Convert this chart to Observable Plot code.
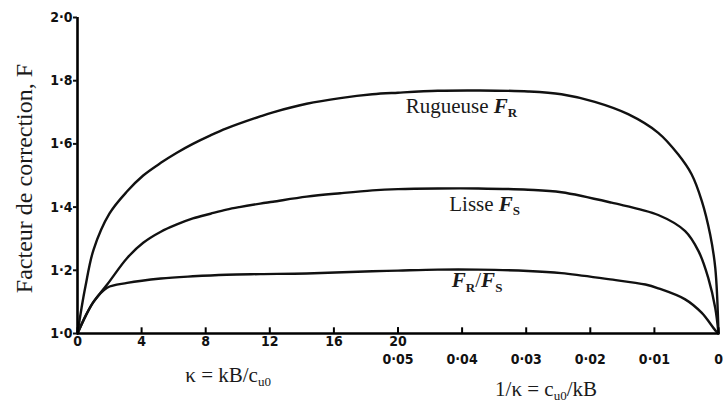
<!DOCTYPE html>
<html><head><meta charset="utf-8">
<script src="https://cdn.jsdelivr.net/npm/d3@7"></script>
<script src="https://cdn.jsdelivr.net/npm/@observablehq/plot@0.6"></script>
<style>
html,body{margin:0;padding:0;background:#fff;}
</style>
</head><body><div id="chart"></div>
<script>
// ---- tick labels ----
const kappaTicks = [0, 4, 8, 12, 16, 20];
const invKappaTicks = [0.05, 0.04, 0.03, 0.02, 0.01, 0];
const yTicks = [1.0, 1.2, 1.4, 1.6, 1.8, 2.0];

// ---- Rugueuse F_R : left half (kappa), right half (1/kappa) ----
const roughKappa  = [0, 0.25, 0.5, 1.0, 2.0, 3.1, 4.1, 5.2, 6.2, 7.2, 8.3, 9.3, 11.4, 12.2, 14.3, 16.4, 18.4, 20];
const roughKappaF = [1.0, 1.08, 1.15, 1.265, 1.38, 1.45, 1.50, 1.54, 1.572, 1.600, 1.627, 1.649, 1.687, 1.700, 1.727, 1.745, 1.757, 1.762];
const roughInv    = [0.0438, 0.0375, 0.0297, 0.0245, 0.0193, 0.0141, 0.0094, 0.0063, 0.0042, 0.0026, 0.0013, 0.0005, 0];
const roughInvF   = [1.768, 1.769, 1.766, 1.757, 1.733, 1.694, 1.635, 1.567, 1.504, 1.419, 1.313, 1.207, 1.0];

// ---- Lisse F_S ----
const smoothKappa  = [0, 0.5, 1.0, 1.85, 3.1, 4.1, 5.2, 6.2, 7.2, 8.3, 9.3, 10.1, 11.4, 12.2, 14.3, 16.4, 18.4, 20];
const smoothKappaF = [1.0, 1.055, 1.10, 1.155, 1.239, 1.287, 1.322, 1.345, 1.364, 1.379, 1.392, 1.400, 1.411, 1.417, 1.433, 1.444, 1.453, 1.457];
const smoothInv    = [0.0438, 0.0375, 0.0297, 0.0245, 0.0167, 0.0094, 0.0052, 0.0031, 0.0016, 0.0005, 0];
const smoothInvF   = [1.459, 1.459, 1.455, 1.447, 1.414, 1.375, 1.324, 1.26, 1.176, 1.08, 1.0];

// ---- F_R / F_S ----
const ratioKappa  = [0, 0.5, 1.0, 1.85, 3.1, 5.2, 7.2, 9.3, 11.4, 14.3, 18.4, 20];
const ratioKappaF = [1.0, 1.055, 1.10, 1.145, 1.160, 1.174, 1.181, 1.186, 1.188, 1.190, 1.197, 1.199];
const ratioInv    = [0.0438, 0.0375, 0.0297, 0.0245, 0.0172, 0.0114, 0.0094, 0.0052, 0.0026, 0.0005, 0];
const ratioInvF   = [1.202, 1.202, 1.198, 1.191, 1.172, 1.155, 1.143, 1.108, 1.065, 1.01, 1.0];

// ---- annotations (label, 1/kappa, F) ----
const annotText = ["Rugueuse *F*_{R}", "Lisse *F*_{S}", "*F*_{R}/*F*_{S}"];
const annotInv  = [0.0488, 0.0420, 0.0416];
const annotF    = [1.699, 1.389, 1.146];

// combined horizontal coordinate: kappa 0..20 on the left, 1/kappa 0.05..0 on the right
const fromKappa = k => k;
const fromInv = v => 20 + (0.05 - v) * 400;
const toInv = u => Math.round((0.05 - (u - 20) / 400) * 100) / 100;

const rows = [];
function addSeries(name, ks, kf, is, iF) {
  ks.forEach((k, i) => rows.push({series: name, u: fromKappa(k), F: kf[i]}));
  is.forEach((v, i) => rows.push({series: name, u: fromInv(v), F: iF[i]}));
}
addSeries("rough", roughKappa, roughKappaF, roughInv, roughInvF);
addSeries("smooth", smoothKappa, smoothKappaF, smoothInv, smoothInvF);
addSeries("ratio", ratioKappa, ratioKappaF, ratioInv, ratioInvF);

const annots = annotText.map((t, i) => ({t, u: fromInv(annotInv[i]), F: annotF[i]}));

const serif = "'Liberation Serif', 'DejaVu Serif', serif";
const tickFont = "'DejaVu Sans Condensed', 'DejaVu Sans', sans-serif";
const dotFmt = (v, n) => v === 0 ? "0" : v.toFixed(n).replace(".", "\u00B7");

const chart = Plot.plot({
  width: 723,
  height: 403,
  marginLeft: 77,
  marginRight: 5,
  marginTop: 17,
  marginBottom: 70,
  style: {background: "#fff", color: "#111"},
  x: {domain: [0, 40]},
  y: {domain: [1, 2]},
  marks: [
    Plot.line(rows, {x: "u", y: "F", z: "series", stroke: "#111", strokeWidth: 2.4, curve: "catmull-rom"}),
    Plot.ruleY([1], {stroke: "#000", strokeWidth: 2.6}),
    Plot.ruleX([0], {stroke: "#000", strokeWidth: 2.6}),
    // upward tick marks on the x axis
    Plot.ruleX(kappaTicks.map(fromKappa).concat(invKappaTicks.map(fromInv)), {x: d => d, y1: 1, y2: 1.018, stroke: "#000", strokeWidth: 2}),
    Plot.axisY(yTicks, {tickSize: 4, tickPadding: 1, strokeWidth: 2, tickFormat: d => dotFmt(d, 1), fontSize: 14, fontWeight: "bold", fontFamily: tickFont, label: null}),
    Plot.axisX(kappaTicks.map(fromKappa), {tickSize: 0, tickPadding: 3, tickFormat: d => String(d), fontSize: 14, fontWeight: "bold", fontFamily: tickFont, label: null}),
    Plot.axisX(invKappaTicks.map(fromInv), {tickSize: 0, tickPadding: 21, tickFormat: u => dotFmt(toInv(u), 2), fontSize: 14, fontWeight: "bold", fontFamily: tickFont, label: null}),
    Plot.text(annots, {x: "u", y: "F", text: "t", textAnchor: "start", lineAnchor: "bottom", fontSize: 21, fontFamily: serif, fill: "#1a1a1a", className: "rich"}),
    Plot.text(["\u03BA = kB/c_{u0}"], {x: fromKappa(9.4), frameAnchor: "bottom", dy: 48, lineAnchor: "bottom", fontSize: 21, fontFamily: serif, fill: "#1a1a1a", className: "rich"}),
    Plot.text(["1/\u03BA = c_{u0}/kB"], {x: fromInv(0.0269), frameAnchor: "bottom", dy: 62, lineAnchor: "bottom", fontSize: 21, fontFamily: serif, fill: "#1a1a1a", className: "rich"}),
    Plot.text(["Facteur de correction, F"], {frameAnchor: "left", textAnchor: "middle", dx: -53, dy: 3, rotate: -90, fontSize: 24, fontFamily: serif, fill: "#1a1a1a"})
  ]
});

// rich text: *x* = bold italic, _{x} = subscript
d3.select(chart).selectAll("g.rich text").each(function() {
  const el = d3.select(this);
  const fs = 21;
  const s = this.textContent;
  this.textContent = "";
  const parts = s.split(/(\*[^*]+\*|_\{[^}]+\})/).filter(p => p);
  let shift = 0;
  parts.forEach((p, idx) => {
    const t = el.append("tspan");
    if (p.startsWith("*")) {
      t.text(p.slice(1, -1)).attr("font-style", "italic").attr("font-weight", "bold");
      if (shift) { t.attr("dy", -shift); shift = 0; }
    } else if (p.startsWith("_{")) {
      const bold = idx > 0 && parts[idx - 1].startsWith("*");
      t.text(p.slice(2, -1)).attr("font-size", fs * 0.62).attr("dy", fs * 0.22);
      if (bold) t.attr("font-weight", "bold");
      shift = fs * 0.22;
    } else {
      t.text(p);
      if (shift) { t.attr("dy", -shift); shift = 0; }
    }
  });
});

document.getElementById("chart").appendChild(chart);
</script>
</body></html>
